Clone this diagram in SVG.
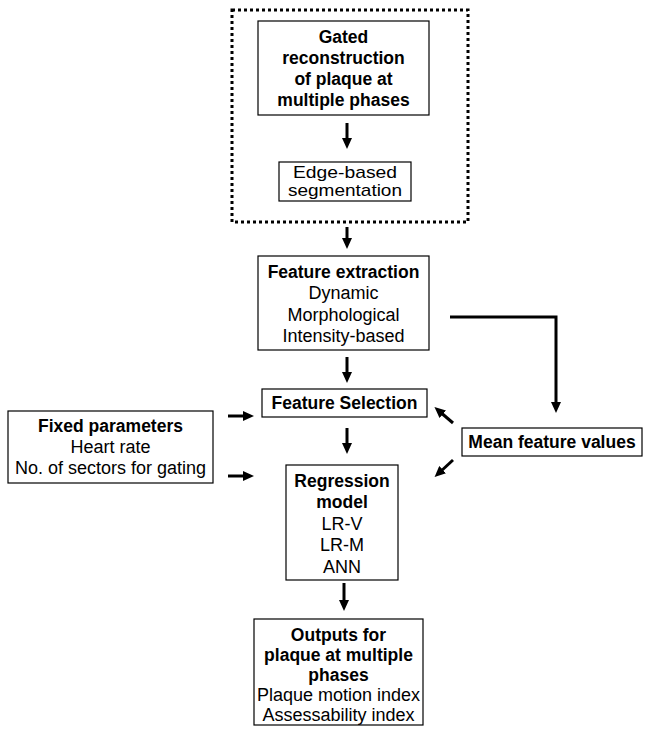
<svg xmlns="http://www.w3.org/2000/svg" width="645" height="730" viewBox="0 0 645 730">
<style>
.box{fill:#fff;stroke:#000;stroke-width:1.2}
.t{font-family:"Liberation Sans",Arial,sans-serif;font-size:18px;fill:#000;text-anchor:middle}
.b{font-weight:bold;font-size:17.5px}
.c{stroke:#000;stroke-width:3;fill:none}
</style>
<defs>
<marker id="ah" markerUnits="userSpaceOnUse" markerWidth="11" markerHeight="10" refX="5" refY="5" orient="auto" viewBox="0 0 11 10">
<path d="M0,0 L11,5 L0,10 z" fill="#000"/>
</marker>
</defs>
<rect x="232" y="10" width="236" height="212" fill="none" stroke="#000" stroke-width="3" stroke-dasharray="3 3"/>
<g id="gated">
<rect class="box" x="258" y="21" width="171" height="94"/>
<text class="t b" x="343.5" y="43">Gated</text>
<text class="t b" x="343.5" y="64">reconstruction</text>
<text class="t b" x="343.5" y="85">of plaque at</text>
<text class="t b" x="343.5" y="106">multiple phases</text>
</g>
<g id="edge">
<rect class="box" x="279" y="162" width="132" height="39"/>
<text class="t" x="345" y="178" style="font-size:17px" textLength="104" lengthAdjust="spacingAndGlyphs">Edge-based</text>
<text class="t" x="345" y="196" style="font-size:17px" textLength="114" lengthAdjust="spacingAndGlyphs">segmentation</text>
</g>
<g id="extraction">
<rect class="box" x="258" y="256" width="171" height="94"/>
<text class="t b" x="343.5" y="278">Feature extraction</text>
<text class="t" x="343.5" y="299">Dynamic</text>
<text class="t" x="343.5" y="321">Morphological</text>
<text class="t" x="343.5" y="342">Intensity-based</text>
</g>
<g id="selection">
<rect class="box" x="262" y="389" width="165" height="28"/>
<text class="t b" x="344.5" y="409">Feature Selection</text>
</g>
<g id="fixed">
<rect class="box" x="8" y="411" width="205" height="72"/>
<text class="t b" x="110.5" y="432">Fixed parameters</text>
<text class="t" x="110.5" y="453">Heart rate</text>
<text class="t" x="110.5" y="474">No. of sectors for gating</text>
</g>
<g id="mean">
<rect class="box" x="462" y="428" width="180" height="28"/>
<text class="t b" x="552" y="448">Mean feature values</text>
</g>
<g id="regression">
<rect class="box" x="286" y="465" width="112" height="115"/>
<text class="t b" x="342" y="487">Regression</text>
<text class="t b" x="342" y="508">model</text>
<text class="t" x="342" y="530">LR-V</text>
<text class="t" x="342" y="551">LR-M</text>
<text class="t" x="342" y="573">ANN</text>
</g>
<g id="outputs">
<rect class="box" x="254" y="619" width="169" height="106"/>
<text class="t b" x="338.5" y="641">Outputs for</text>
<text class="t b" x="338.5" y="661">plaque at multiple</text>
<text class="t b" x="338.5" y="681">phases</text>
<text class="t" x="338.5" y="701">Plaque motion index</text>
<text class="t" x="338.5" y="721">Assessability index</text>
</g>
<g id="connectors">
<line class="c" x1="347" y1="123" x2="347" y2="143" marker-end="url(#ah)"/>
<line class="c" x1="347" y1="227" x2="347" y2="243" marker-end="url(#ah)"/>
<line class="c" x1="347" y1="357" x2="347" y2="377" marker-end="url(#ah)"/>
<line class="c" x1="347" y1="428" x2="347" y2="448" marker-end="url(#ah)"/>
<line class="c" x1="344" y1="583" x2="344" y2="605" marker-end="url(#ah)"/>
<line class="c" x1="228" y1="416" x2="248" y2="416" marker-end="url(#ah)"/>
<line class="c" x1="228" y1="476" x2="248" y2="476" marker-end="url(#ah)"/>
<polyline class="c" points="450,317 556,317 556,407" marker-end="url(#ah)"/>
<line class="c" x1="453" y1="423" x2="439" y2="411" marker-end="url(#ah)"/>
<line class="c" x1="453" y1="460" x2="439" y2="473" marker-end="url(#ah)"/>
</g>
</svg>
